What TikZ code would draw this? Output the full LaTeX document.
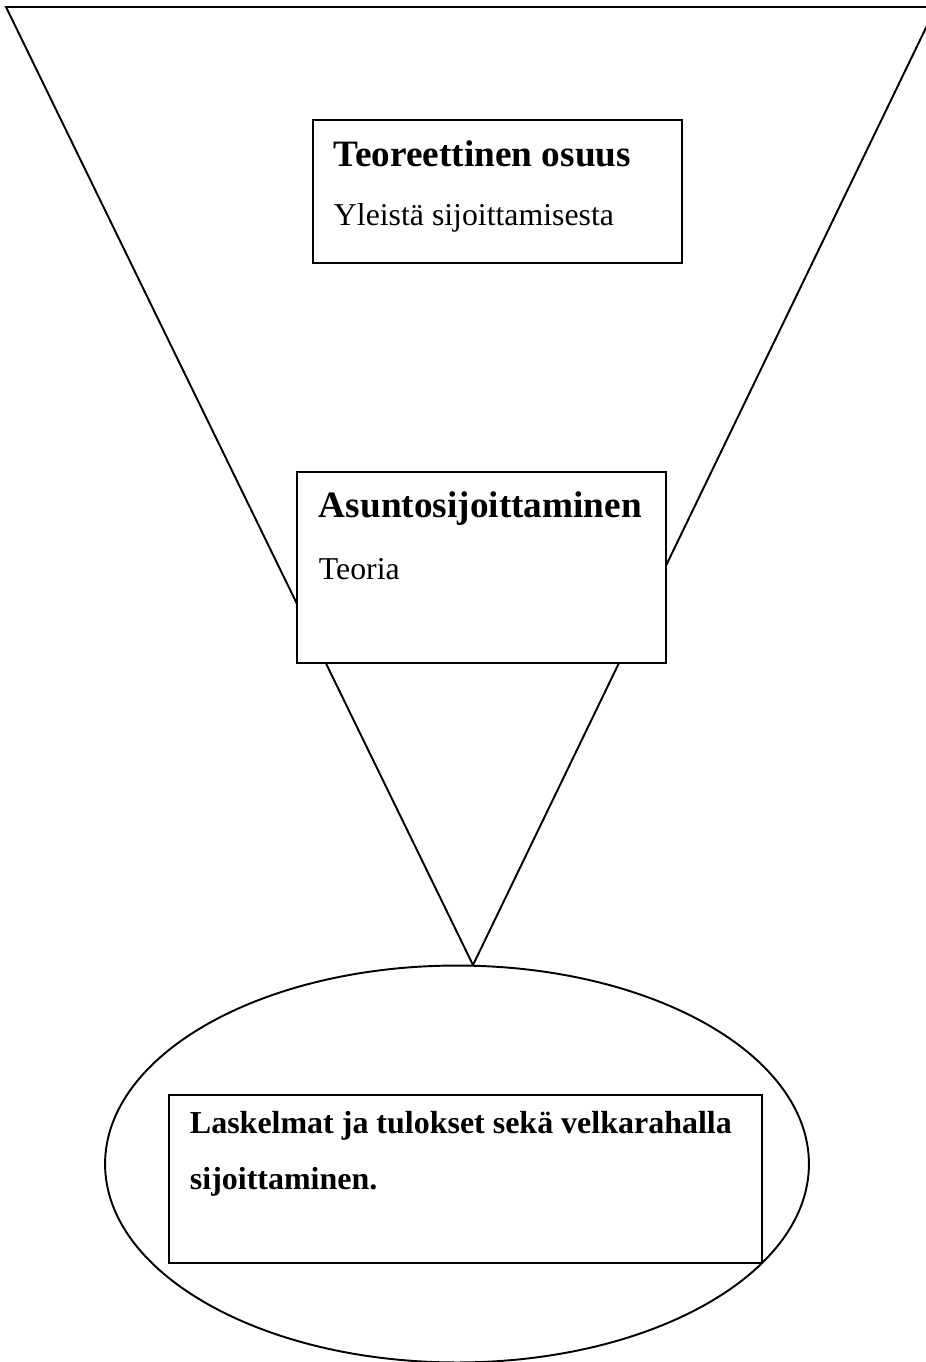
\documentclass[tikz,border=0pt]{standalone}
\usepackage{fontspec}
\setmainfont{Liberation Serif}
\usetikzlibrary{calc,positioning,shapes.geometric}
\tikzset{
	frame box/.style={
		draw,
		rectangle,
		fill=white,
		inner sep=0pt,
		line width=1.1pt,
	},
	head text/.style={
		font=\fontsize{21.2}{25}\selectfont\bfseries,
		inner sep=0pt,
		anchor=base west,
	},
	body text/.style={
		font=\fontsize{18.1}{22}\selectfont,
		inner sep=0pt,
		anchor=base west,
	},
	result text/.style={
		font=\fontsize{18.2}{22}\selectfont\bfseries,
		inner sep=0pt,
		anchor=base west,
	},
}

\begin{document}
\begin{tikzpicture}[x=0.02cm, y=-0.02cm, line width=1.1pt]
\useasboundingbox (0,0) rectangle (926,1362);
\clip (0,0) rectangle (926,1362);

% funnel
\coordinate (tl) at (6,7);
\coordinate (tr) at (936,7);
\coordinate (tip) at (473,965);
\draw (tl) -- (tr) -- (tip) -- cycle;

% result ellipse
\node[draw, ellipse, fill=white, inner sep=0pt,
	minimum width=14.08cm, minimum height=7.94cm] (result) at (457,1164) {};

% boxes
\node[frame box, minimum width=7.38cm, minimum height=2.86cm] (theory) at (497.5,191.5) {};
\node[head text] (theoryhead) at (333,166) {Teoreettinen osuus};
\node[body text] (theorybody) at (333,225) {Yleistä sijoittamisesta};

\node[frame box, minimum width=7.38cm, minimum height=3.82cm] (housing) at (481.5,567.5) {};
\node[head text] (housinghead) at (318,517) {Asuntosijoittaminen};
\node[body text] (housingbody) at (318,579) {Teoria};

\node[frame box, minimum width=11.86cm, minimum height=3.36cm] (calc) at (465.5,1179) {};
\node[result text] (calcone) at (189,1133) {Laskelmat ja tulokset sekä velkarahalla};
\node[result text] (calctwo) at (189,1189) {sijoittaminen.};
\end{tikzpicture}
\end{document}
